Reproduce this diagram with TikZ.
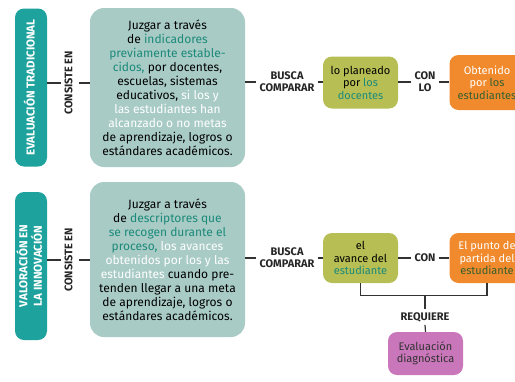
\documentclass[tikz,border=0pt]{standalone}
\usepackage{fontspec}
\usepackage{graphicx}
\setmainfont{Fira Sans}
\usetikzlibrary{positioning}

\definecolor{barteal}{RGB}{30,162,157}
\definecolor{boxgris}{RGB}{168,203,197}
\definecolor{txtteal}{RGB}{28,138,122}
\definecolor{oliva}{RGB}{182,190,84}
\definecolor{naranja}{RGB}{240,138,44}
\definecolor{morado}{RGB}{202,118,186}
\definecolor{verdeosc}{RGB}{52,96,48}
\definecolor{linea}{RGB}{50,50,50}

\newcommand{\vtexto}[1]{\rotatebox{90}{\begin{tabular}{@{}c@{}}#1\end{tabular}}}

\begin{document}
\begin{tikzpicture}[x=1pt,y=-1pt,
    barra/.style={rounded corners=9pt, fill=barteal, text=white, inner sep=0pt,
      minimum width=32pt, font=\bfseries\fontsize{11.5}{12}\selectfont},
    caja/.style={rounded corners=14pt, fill=boxgris, inner sep=0pt, align=center,
      minimum width=155pt, font=\fontsize{12}{14}\selectfont},
    etiqueta/.style={inner sep=3pt, align=center, text=black!85,
      font=\bfseries\fontsize{11}{12}\selectfont},
    chica/.style={rounded corners=9pt, inner sep=0pt, align=center,
      minimum width=75pt, font=\fontsize{11}{12.5}\selectfont},
    conector/.style={draw=linea, line width=1.2pt}]
  \clip (0,0) rectangle (515,381);

  \node[barra, minimum height=158pt] (evtrad) at (31,87.5) {\vtexto{EVALUACIÓN TRADICIONAL}};
  \node[etiqueta] (consiste1) at (70,83) {\vtexto{CONSISTE EN}};
  \node[caja, minimum height=159pt] (caja1) at (167.5,87.5) {Juzgar a través\\
    de \textcolor{txtteal}{indicadores}\\
    \textcolor{txtteal}{previamente estable-}\\
    \textcolor{txtteal}{cidos,} por docentes,\\
    escuelas, sistemas\\
    educativos, \textcolor{white}{si los y}\\
    \textcolor{white}{las estudiantes han}\\
    \textcolor{white}{alcanzado o no metas}\\
    de aprendizaje, logros o\\
    estándares académicos.};
  \node[etiqueta] (busca1) at (287,82) {BUSCA\\COMPARAR};
  \node[chica, fill=oliva, minimum height=52pt] (planeado) at (360.5,82.5) {lo planeado\\
    por \textcolor{txtteal}{los}\\\textcolor{txtteal}{docentes}};
  \node[etiqueta] (conlo) at (425,82) {CON\\LO};
  \node[chica, fill=naranja, text=white, minimum height=55pt] (obtenido) at (487,82.5) {Obtenido\\
    por \textcolor{verdeosc}{los}\\\textcolor{verdeosc}{estudiantes}};

  \draw[conector] (evtrad.east |- consiste1) -- (consiste1.west);
  \draw[conector] (consiste1.east) -- (caja1.west |- consiste1);
  \draw[conector] (caja1.east |- busca1) -- (busca1.west);
  \draw[conector] (busca1.east) -- (planeado.west |- busca1);
  \draw[conector] (planeado.east |- conlo) -- (conlo.west);
  \draw[conector] (conlo.east) -- (obtenido.west |- conlo);

  \node[barra, minimum height=148pt] (valinn) at (31,266) {\vtexto{VALORACIÓN EN\\LA INNOVACIÓN}};
  \node[etiqueta] (consiste2) at (70,260) {\vtexto{CONSISTE EN}};
  \node[caja, minimum height=155pt] (caja2) at (167.5,259.5) {Juzgar a través\\
    de \textcolor{txtteal}{descriptores que}\\
    \textcolor{txtteal}{se recogen durante el}\\
    \textcolor{txtteal}{proceso,} \textcolor{white}{los avances}\\
    \textcolor{white}{obtenidos por los y las}\\
    \textcolor{white}{estudiantes} cuando pre-\\
    tenden llegar a una meta\\
    de aprendizaje, logros o\\
    estándares académicos.};
  \node[etiqueta] (busca2) at (287,258) {BUSCA\\COMPARAR};
  \node[chica, fill=oliva, minimum height=50pt] (avance) at (360.5,258) {el\\
    avance del\\\textcolor{txtteal}{estudiante}};
  \node[etiqueta] (con) at (425,258) {CON};
  \node[chica, fill=naranja, text=white, minimum height=50pt] (punto) at (487,258) {El punto de\\
    partida del\\\textcolor{verdeosc}{estudiante}};
  \node[etiqueta] (requiere) at (425,317) {REQUIERE};
  \node[chica, fill=morado, text=black!80, minimum height=43pt] (diagnostica) at (425.5,353.5) {Evaluación\\diagnóstica};

  \draw[conector] (valinn.east |- consiste2) -- (consiste2.west);
  \draw[conector] (consiste2.east) -- (caja2.west |- consiste2);
  \draw[conector] (caja2.east |- busca2) -- (busca2.west);
  \draw[conector] (busca2.east) -- (avance.west |- busca2);
  \draw[conector] (avance.east |- con) -- (con.west);
  \draw[conector] (con.east) -- (punto.west |- con);
  \coordinate (corchete) at ([yshift=-12pt]avance.south);
  \draw[conector] (avance.south) -- (corchete) -| (punto.south);
  \draw[conector] (requiere.north) -- (requiere.north |- corchete);
  \draw[conector] (requiere.south) -- (diagnostica.north);
\end{tikzpicture}
\end{document}
